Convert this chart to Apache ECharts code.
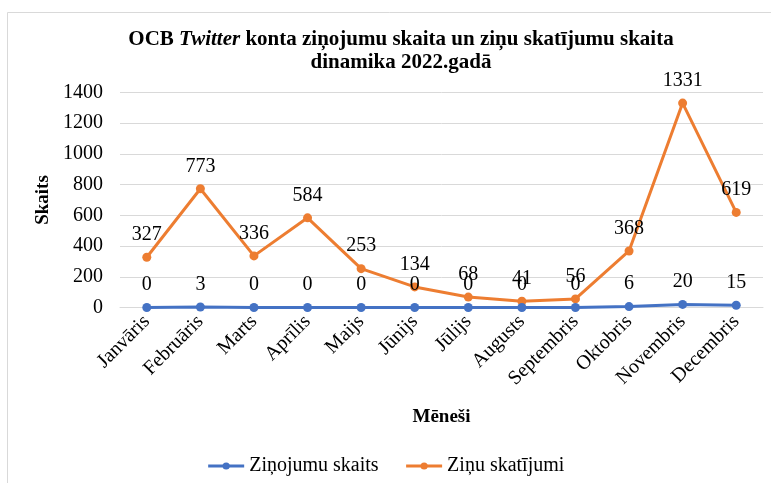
<!DOCTYPE html>
<html>
<head>
<meta charset="utf-8">
<script src="https://cdn.jsdelivr.net/npm/echarts@6/dist/echarts.min.js"></script>
<style>html,body{margin:0;padding:0;background:#fff;}#c{width:771px;height:483px;}</style>
</head>
<body>
<div id="c"></div>
<script>
const months = ['Janvāris','Februāris','Marts','Aprīlis','Maijs','Jūnijs','Jūlijs','Augusts','Septembris','Oktobris','Novembris','Decembris'];
const messages = [0,3,0,0,0,0,0,0,0,6,20,15];
const views = [327,773,336,584,253,134,68,41,56,368,1331,619];
const yTicks = {min:0, max:1400, interval:200};

const serif = '"Liberation Serif","Times New Roman",serif';
const chart = echarts.init(document.getElementById('c'));
chart.setOption({
  animation:false,
  backgroundColor:'#fff',
  graphic:[
    {type:'line', shape:{x1:7.5,y1:12.5,x2:7.5,y2:483}, style:{stroke:'#d9d9d9',lineWidth:1}},
    {type:'line', shape:{x1:7.5,y1:12.5,x2:771,y2:12.5}, style:{stroke:'#d9d9d9',lineWidth:1}}
  ],
  title:{
    text:'{b|OCB }{bi|Twitter}{b| konta ziņojumu skaita un ziņu skatījumu skaita}\n{b|dinamika 2022.gadā}',
    left:396, top:23, textAlign:'center',
    textStyle:{
      rich:{
        b:{fontFamily:serif,fontWeight:'bold',fontSize:21,color:'#000',lineHeight:23},
        bi:{fontFamily:serif,fontWeight:'bold',fontStyle:'italic',fontSize:21,color:'#000',lineHeight:23}
      }
    }
  },
  grid:{left:120,right:8,top:92.5,bottom:175.5},
  legend:{
    bottom:2, left:'center',
    itemWidth:36, itemHeight:9, itemGap:26,
    lineStyle:{width:3},
    textStyle:{fontFamily:serif,fontSize:20,color:'#000'},
    data:['Ziņojumu skaits','Ziņu skatījumi']
  },
  xAxis:{
    type:'category', data:months, boundaryGap:true,
    axisLine:{lineStyle:{color:'#d9d9d9'}},
    axisTick:{show:false},
    axisLabel:{rotate:45, fontFamily:serif, fontSize:20, color:'#000', margin:11, interval:0},
    name:'Mēneši', nameLocation:'middle', nameGap:100,
    nameTextStyle:{fontFamily:serif, fontWeight:'bold', fontSize:19, color:'#000'}
  },
  yAxis:{
    type:'value', min:yTicks.min, max:yTicks.max, interval:yTicks.interval,
    axisLine:{show:false}, axisTick:{show:false},
    splitLine:{lineStyle:{color:'#d9d9d9'}},
    axisLabel:{fontFamily:serif, fontSize:20, color:'#000', margin:17, formatter:function(v){return String(v);}},
    name:'Skaits', nameLocation:'middle', nameGap:60, nameRotate:90,
    nameTextStyle:{fontFamily:serif, fontWeight:'bold', fontSize:19, color:'#000'}
  },
  series:[
    {
      name:'Ziņojumu skaits', type:'line', data:messages,
      color:'#4472C4', symbol:'circle', symbolSize:9,
      lineStyle:{width:3},
      label:{show:true, position:'top', distance:8, fontFamily:serif, fontSize:20, color:'#000'},
      z:3
    },
    {
      name:'Ziņu skatījumi', type:'line', data:views,
      color:'#ED7D31', symbol:'circle', symbolSize:9,
      lineStyle:{width:3},
      label:{show:true, position:'top', distance:8, fontFamily:serif, fontSize:20, color:'#000'},
      z:2
    }
  ]
});
</script>
</body>
</html>
